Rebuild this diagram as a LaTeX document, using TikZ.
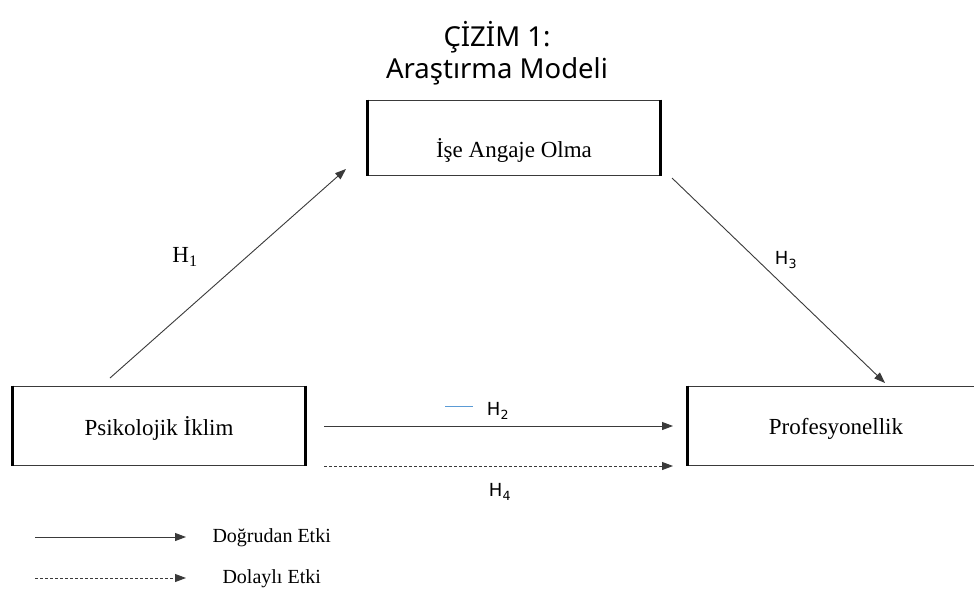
\documentclass[tikz,border=0pt]{standalone}
\usepackage{fontspec}
\setmainfont{Liberation Serif}
\newfontfamily\titlefont{Noto Sans}
\newfontfamily\hfont{DejaVu Sans}
\usetikzlibrary{arrows.meta}
\definecolor{linegray}{HTML}{3A3A3A}
\definecolor{hblue}{HTML}{5B9BD5}
\tikzset{
  box/.style={draw=linegray, line width=1pt, rectangle, inner sep=0pt},
  boxtext/.style={font=\fontsize{23}{27}\selectfont},
  thickedge/.style={line width=3.5pt, black},
  conn/.style={draw=linegray, line width=0.9pt, -{Triangle[length=11pt,width=8pt]}},
  dconn/.style={conn, dash pattern=on 3pt off 2pt},
  hserif/.style={font=\fontsize{23}{27}\selectfont},
  hsans/.style={font=\hfont\fontsize{18}{22}\selectfont},
  legend/.style={font=\fontsize{20}{24}\selectfont, anchor=west},
  titletext/.style={font=\titlefont\fontsize{27.5}{32}\selectfont}
}
\begin{document}
\begin{tikzpicture}[x=1pt,y=-1pt]
\useasboundingbox (0,0) rectangle (974,589);
\fill[white] (0,0) rectangle (974,589);

% title
\node[titletext] (t1) at (497,37) {ÇİZİM 1:};
\node[titletext] (t2) at (497,71) {Araştırma Modeli};

% boxes
\node[box, minimum width=292pt, minimum height=75pt] (ang) at (514,137.5) {};
\node[boxtext] (angt) at ([yshift=-13pt]ang.center) {İşe Angaje Olma};
\node[box, minimum width=292pt, minimum height=79pt] (psi) at (159,425.5) {};
\node[boxtext] (psit) at ([yshift=-3pt]psi.center) {Psikolojik İklim};
\node[box, minimum width=296pt, minimum height=79pt] (pro) at (836,425.5) {};
\node[boxtext] (prot) at ([yshift=-3pt]pro.center) {Profesyonellik};

\draw[thickedge] (ang.north west) -- (ang.south west);
\draw[thickedge] (ang.north east) -- (ang.south east);
\draw[thickedge] (psi.north west) -- (psi.south west);
\draw[thickedge] (psi.north east) -- (psi.south east);
\draw[thickedge] (pro.north west) -- (pro.south west);

% connector endpoints
\coordinate (h1s) at (110,378);
\coordinate (h1e) at (346,169);
\coordinate (h3s) at (672,178);
\coordinate (h3e) at (885,383);
\coordinate (h2s) at (324,426);
\coordinate (h2e) at (673,426);
\coordinate (h4s) at (324,466);
\coordinate (h4e) at (673,466);

\draw[conn] (h1s) -- (h1e);
\draw[conn] (h3s) -- (h3e);
\draw[conn] (h2s) -- (h2e);
\draw[dconn] (h4s) -- (h4e);

% labels
\node[hserif] (lh1) at (185,257) {H\textsubscript{1}};
\node[hsans] (lh3) at (786,260) {H\textsubscript{3}};
\node[hsans] (lh2) at (498,411) {H\textsubscript{2}};
\node[hsans] (lh4) at (500,492) {H\textsubscript{4}};
\coordinate (bl1) at (445,406);
\coordinate (bl2) at (473,406);
\draw[hblue, line width=0.9pt] (bl1) -- (bl2);

% legend
\coordinate (l1s) at (35,537);
\coordinate (l1e) at (186,537);
\coordinate (l2s) at (35,578);
\coordinate (l2e) at (186,578);
\draw[conn] (l1s) -- (l1e);
\draw[dconn] (l2s) -- (l2e);
\node[legend] (lg1) at (209,538) {Doğrudan Etki};
\node[legend] (lg2) at (219,579) {Dolaylı Etki};
\end{tikzpicture}
\end{document}
